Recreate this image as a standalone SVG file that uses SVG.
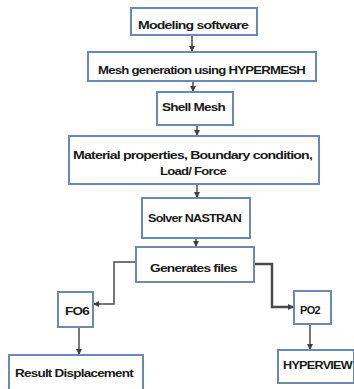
<svg xmlns="http://www.w3.org/2000/svg" width="354" height="389" viewBox="0 0 354 389">
<defs>
<marker id="ah" markerWidth="6" markerHeight="6" refX="5" refY="3" orient="auto" markerUnits="userSpaceOnUse">
<path d="M0,0 L6,3 L0,6 Z" fill="#404040"/>
</marker>
<style>
.box{fill:#fff;stroke:#6a8ab3;stroke-width:2}
.t{font-family:"Liberation Sans",Arial,sans-serif;font-weight:bold;font-size:10.5px;fill:#1a1a1a;text-anchor:middle;letter-spacing:-0.6px}
.c{fill:none;stroke:#4a4a4a;stroke-width:1.5}
</style>
</defs>
<rect width="354" height="389" fill="#fff"/>
<g id="connectors">
<line class="c" x1="192" y1="35" x2="192" y2="51" marker-end="url(#ah)"/>
<line class="c" x1="193" y1="81" x2="193" y2="91" marker-end="url(#ah)"/>
<line class="c" x1="197" y1="125" x2="197" y2="135" marker-end="url(#ah)"/>
<line class="c" x1="197" y1="184" x2="197" y2="197" marker-end="url(#ah)"/>
<line class="c" x1="196" y1="238" x2="196" y2="246" marker-end="url(#ah)"/>
<polyline class="c" points="136,262 114,262 114,304 94,304" marker-end="url(#ah)"/>
<polyline class="c" style="stroke-width:2.5" points="254,264 272,264 272,307 293,307" marker-end="url(#ah)"/>
<line class="c" x1="79" y1="327" x2="79" y2="354" marker-end="url(#ah)"/>
<line class="c" x1="310" y1="324" x2="310" y2="349" marker-end="url(#ah)"/>
</g>
<g id="n1"><rect class="box" x="131" y="8" width="126" height="27"/><text class="t" x="193" y="29" textLength="110" lengthAdjust="spacingAndGlyphs">Modeling software</text></g>
<g id="n2"><rect class="box" x="88" y="52" width="228" height="29"/><text class="t" x="201.5" y="74" textLength="207" lengthAdjust="spacingAndGlyphs">Mesh generation using HYPERMESH</text></g>
<g id="n3"><rect class="box" x="157" y="92" width="76" height="33"/><text class="t" x="193.5" y="111" textLength="63" lengthAdjust="spacingAndGlyphs">Shell Mesh</text></g>
<g id="n4"><rect class="box" x="69" y="136" width="250" height="48"/><text class="t" x="192.5" y="159" textLength="239" lengthAdjust="spacingAndGlyphs">Material properties, Boundary condition,</text><text class="t" x="193" y="175" textLength="66" lengthAdjust="spacingAndGlyphs">Load/ Force</text></g>
<g id="n5"><rect class="box" x="142" y="198" width="108" height="40"/><text class="t" x="194.5" y="222" textLength="93" lengthAdjust="spacingAndGlyphs">Solver NASTRAN</text></g>
<g id="n6"><rect class="box" x="136" y="247" width="118" height="35"/><text class="t" x="193.5" y="272" textLength="87" lengthAdjust="spacingAndGlyphs">Generates files</text></g>
<g id="n7"><rect class="box" x="58" y="292" width="35" height="35"/><text class="t" x="77" y="315" textLength="24" lengthAdjust="spacingAndGlyphs">FO6</text></g>
<g id="n8"><rect class="box" x="294" y="291" width="37" height="33"/><text class="t" x="310" y="314" textLength="20" lengthAdjust="spacingAndGlyphs">PO2</text></g>
<g id="n9"><rect class="box" x="9" y="355" width="134" height="40"/><text class="t" x="74" y="377" textLength="118" lengthAdjust="spacingAndGlyphs">Result Displacement</text></g>
<g id="n10"><rect class="box" x="278" y="350" width="76" height="33"/><text class="t" x="317.5" y="369" textLength="69" lengthAdjust="spacingAndGlyphs">HYPERVIEW</text></g>
</svg>
